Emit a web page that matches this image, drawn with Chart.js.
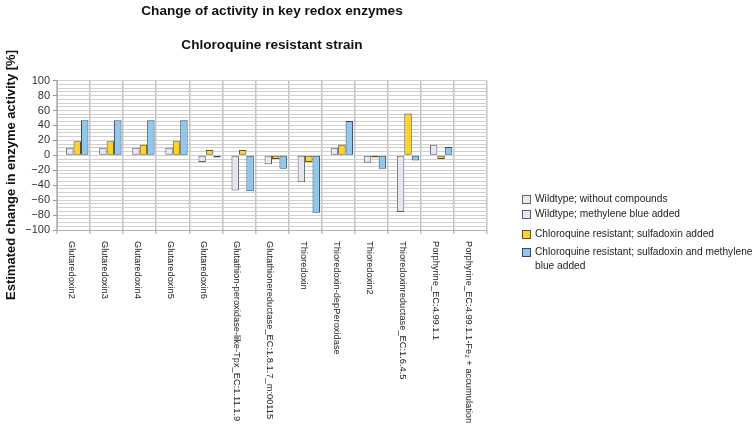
<!DOCTYPE html>
<html>
<head>
<meta charset="utf-8">
<script src="https://cdn.jsdelivr.net/npm/chart.js@4/dist/chart.umd.min.js"></script>
<style>
  html, body { margin: 0; padding: 0; background: #fff; }
  #wrap { position: relative; width: 756px; height: 445px; }
  #legend { position: absolute; left: 522px; top: 192px; font: 10.2px "Liberation Sans", Arial, sans-serif; color: #222; }
  .item { display: flex; align-items: flex-start; line-height: 14px; }
  .box { width: 7px; height: 7px; margin: 3px 4px 0 0; flex: none; border: 1px solid #666; }
  .txt { width: 222px; }
</style>
</head>
<body>
<div id="wrap">
  <canvas id="chart" width="756" height="445"></canvas>
  <div id="legend"></div>
</div>
<script>
const categories = [
  'Glutaredoxin2', 'Glutaredoxin3', 'Glutaredoxin4', 'Glutaredoxin5', 'Glutaredoxin6',
  'Glutathion-peroxidase-like-Tpx_EC:1.11.1.9', 'Glutathionereductase_EC:1.8.1.7_m:00115',
  'Thioredoxin', 'Thioredoxin-depPeroxidase', 'Thioredoxin2', 'Thioredoxinreductase_EC:1.6.4.5',
  'Porphyrine_EC:4.99.1.1', 'Porphyrine_EC:4.99.1.1-Fe\u2082 + accumulation'
];
const seriesNames = [
  'Wildtype; without compounds',
  'Wildtype; methylene blue added',
  'Chloroquine resistant; sulfadoxin added',
  'Chloroquine resistant; sulfadoxin and methylene blue added'
];
const wildtypeNone = [null, null, null, null, null, null, null, null, null, null, null, null, null];
const wildtypeMethylene = [10, 10, 10, 10, -9, -47, -12, -36, 10, -10, -76, 14, null];
const resistantSulfadoxin = [19, 19, 14, 19, 7, 7, -5, -9, 14, -3, 56, -5, null];
const resistantSulfadoxinMethylene = [47, 47, 47, 47, -3, -48, -18, -77, 46, -18, -7, 11, null];

const fills = ['#e9e9ec', '#e6e6f1', '#ffd323', '#8fc8ec'];
const borders = ['#666666', '#5e5e6a', '#5e5020', '#2f4d68'];
const FONT = '"Liberation Sans", Arial, sans-serif';

// подписи категорий и заголовок оси Y рисуем сами
const labelsPlugin = {
  id: 'verticalLabels',
  afterDraw(chart) {
    const { ctx, scales } = chart;
    const x = scales.x;
    ctx.save();
    ctx.font = '9.3px ' + FONT;
    ctx.fillStyle = '#222';
    ctx.textAlign = 'left';
    ctx.textBaseline = 'middle';
    categories.forEach((label, i) => {
      ctx.save();
      ctx.translate(x.getPixelForTick(i) - 2, x.top + 11);
      ctx.rotate(Math.PI / 2);
      ctx.fillText(label, 0, 0);
      ctx.restore();
    });
    ctx.font = 'bold 13px ' + FONT;
    ctx.fillStyle = '#111';
    ctx.textAlign = 'center';
    ctx.translate(11, 175);
    ctx.rotate(-Math.PI / 2);
    ctx.fillText('Estimated change in enzyme activity [%]', 0, 0);
    ctx.restore();
  }
};

const datasets = [wildtypeNone, wildtypeMethylene, resistantSulfadoxin, resistantSulfadoxinMethylene]
  .map((data, i) => ({
    label: seriesNames[i],
    data,
    backgroundColor: fills[i],
    borderColor: borders[i],
    borderWidth: 1,
    borderSkipped: false,
    categoryPercentage: 0.9,
    barPercentage: 1.0,
  }));

new Chart(document.getElementById('chart'), {
  type: 'bar',
  data: { labels: categories, datasets },
  options: {
    responsive: false,
    animation: false,
    layout: { padding: { left: 0, right: 269, top: 0, bottom: 0 } },
    plugins: {
      legend: { display: false },
      tooltip: { enabled: false },
      title: {
        display: true,
        fullSize: false,
        text: 'Change of activity in key redox enzymes',
        color: '#111',
        font: { family: FONT, size: 13.6, weight: 'bold' },
        padding: { top: 3, bottom: 17 },
      },
      subtitle: {
        display: true,
        fullSize: false,
        text: 'Chloroquine resistant strain',
        color: '#111',
        font: { family: FONT, size: 13.6, weight: 'bold' },
        padding: { top: 1, bottom: 27 },
      },
    },
    scales: {
      x: {
        grid: { offset: true, color: '#c2c2c2', lineWidth: 1.5, tickLength: 4 },
        border: { color: '#b0b0b0' },
        ticks: { display: false },
        afterFit: (scale) => { scale.height = 215; },
      },
      y: {
        min: -100,
        max: 100,
        grid: {
          color: '#d0d0d0',
          tickLength: 4,
          tickColor: (c) => (c.tick && c.tick.value % 20 === 0 ? '#999' : 'rgba(0,0,0,0)'),
        },
        border: { color: '#b0b0b0' },
        ticks: {
          stepSize: 5,
          autoSkip: false,
          padding: 3,
          color: '#333',
          font: { family: FONT, size: 11 },
          callback: (v) => (v % 20 === 0 ? String(v).replace('-', '\u2212') : ''),
        },
        afterFit: (scale) => { scale.width = 57; },
      },
    },
  },
  plugins: [labelsPlugin],
});

// легенда справа
const legend = document.getElementById('legend');
const rowGaps = [1, 6, 4, 0];
seriesNames.forEach((name, i) => {
  const row = document.createElement('div');
  row.className = 'item';
  row.style.marginBottom = rowGaps[i] + 'px';
  row.innerHTML = `<span class="box" style="background:${fills[i]};border-color:${borders[i]}"></span><span class="txt">${name}</span>`;
  legend.appendChild(row);
});
</script>
</body>
</html>
